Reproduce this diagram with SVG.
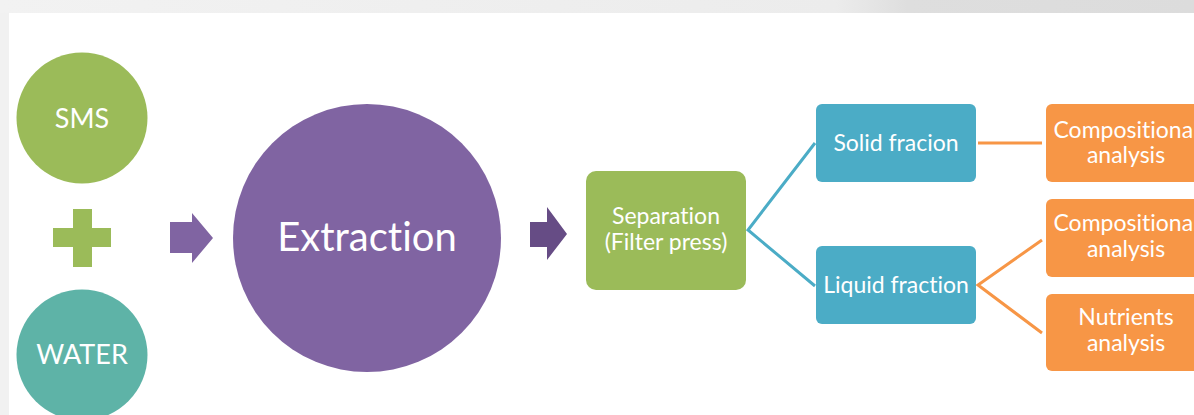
<svg xmlns="http://www.w3.org/2000/svg" width="1194" height="415" viewBox="0 0 1194 415">
<defs>
<linearGradient id="band" x1="0" y1="0" x2="1" y2="0">
<stop offset="0" stop-color="#f2f2f2"/>
<stop offset="0.7" stop-color="#ececec"/>
<stop offset="0.76" stop-color="#dedede"/>
<stop offset="1" stop-color="#dcdcdc"/>
</linearGradient>
</defs>
<style>
text{font-family:"Lato","Open Sans","Liberation Sans",sans-serif;fill:#fff;text-anchor:middle;font-variant-ligatures:none}
.t{font-size:23px}
.c{font-size:27px}
.blue{fill:#4bacc6}
.orange{fill:#f79646}
.green{fill:#9bbb59}
.ln{fill:none;stroke-width:3}
</style>
<rect x="0" y="0" width="1194" height="415" fill="#f1f1f1"/>
<rect x="0" y="0" width="1194" height="13" fill="url(#band)"/>
<rect x="9" y="13" width="1185" height="402" fill="#ffffff"/>
<g id="connectors">
<path class="ln" stroke="#4bacc6" d="M815,143 L748,230 L815,286"/>
<path class="ln" stroke="#f79646" d="M978,143 L1042,143"/>
<path class="ln" stroke="#f79646" d="M1042,240 L978,285 L1042,333"/>
<polygon id="arrow1" fill="#8064a2" points="170,222 192,222 192,213 213,238 192,263 192,253 170,253"/>
<polygon id="arrow2" fill="#664c85" points="530,222 547,222 547,207 567,234 547,260 547,247 530,247"/>
</g>
<g id="sms"><circle cx="82" cy="118" r="65.5" class="green"/><text class="c" x="82" y="128">SMS</text></g>
<g id="plus"><path class="green" d="M73,209 H92 V228 H111 V247 H92 V267 H73 V247 H53 V228 H73 Z"/></g>
<g id="water"><circle cx="82" cy="355" r="65.5" fill="#5eb3a7"/><text class="c" x="82" y="364">WATER</text></g>
<g id="extraction"><circle cx="367" cy="238" r="134" fill="#8064a2"/><text x="367" y="251" font-size="40">Extraction</text></g>
<g id="separation"><rect x="586" y="171" width="160" height="119" rx="10" class="green"/><text class="t" x="666" y="224">Separation</text><text class="t" x="666" y="250">(Filter press)</text></g>
<g id="solid"><rect x="816" y="104" width="160" height="78" rx="6" class="blue"/><text class="t" x="896" y="151">Solid fracion</text></g>
<g id="liquid"><rect x="816" y="246" width="160" height="78" rx="6" class="blue"/><text class="t" x="896" y="293">Liquid fraction</text></g>
<g id="comp1"><rect x="1046" y="104" width="160" height="78" rx="6" class="orange"/><text class="t" x="1126" y="138">Compositional</text><text class="t" x="1126" y="163">analysis</text></g>
<g id="comp2"><rect x="1046" y="199" width="160" height="78" rx="6" class="orange"/><text class="t" x="1126" y="231">Compositional</text><text class="t" x="1126" y="257">analysis</text></g>
<g id="nutrients"><rect x="1046" y="294" width="160" height="77" rx="6" class="orange"/><text class="t" x="1126" y="325">Nutrients</text><text class="t" x="1126" y="351">analysis</text></g>
</svg>
